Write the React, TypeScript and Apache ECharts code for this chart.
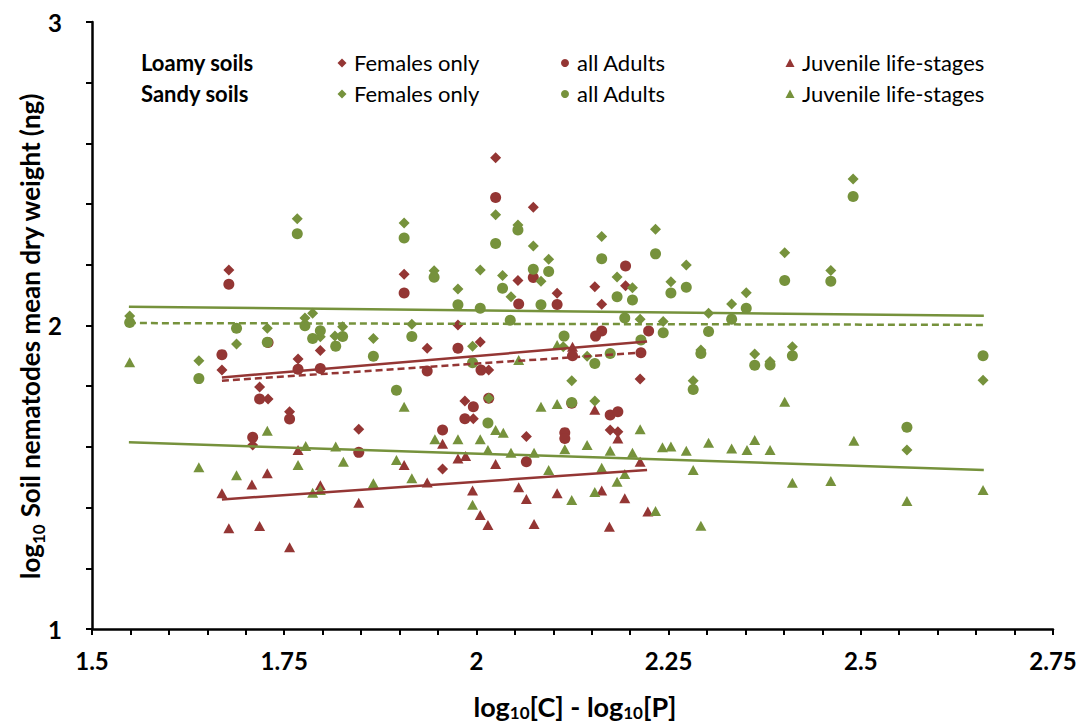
import React, { useEffect, useRef } from "react";
import * as echarts from "echarts";

const RED = "#943634";
const GREEN = "#76923C";

// Loamy soils
const loamyFemales: [number, number][] = [
  [1.678, 2.183], [1.669, 1.853], [1.768, 1.89], [1.797, 1.918], [1.718, 1.797],
  [1.729, 1.758], [1.757, 1.716], [1.709, 1.606], [1.906, 2.169], [2.025, 2.553],
  [2.074, 2.39], [2.054, 2.148], [1.976, 2.002], [1.936, 1.925], [2.005, 1.946],
  [2.016, 1.853], [1.985, 1.751], [1.996, 1.693], [1.847, 1.658], [2.065, 1.634],
  [1.956, 1.527], [2.105, 2.106], [2.154, 2.128], [2.163, 2.07], [2.194, 2.131],
  [2.213, 1.824], [2.174, 1.656], [2.184, 1.65],
];
const loamyAdults: [number, number][] = [
  [1.678, 2.136], [1.669, 1.904], [1.729, 1.944], [1.768, 1.856], [1.797, 1.858],
  [1.718, 1.758], [1.757, 1.692], [1.709, 1.632], [1.906, 2.107], [2.025, 2.422],
  [2.074, 2.158], [2.055, 2.071], [1.976, 1.925], [1.936, 1.85], [2.006, 1.853],
  [1.996, 1.732], [2.016, 1.76], [1.985, 1.693], [1.956, 1.656], [1.847, 1.582],
  [2.065, 1.551], [2.105, 2.069], [2.194, 2.196], [2.163, 1.982], [2.155, 1.965],
  [2.224, 1.982], [2.125, 1.9], [2.214, 1.91], [2.174, 1.705], [2.184, 1.716],
  [2.115, 1.647], [2.115, 1.628], [2.124, 1.744],
];
const loamyJuveniles: [number, number][] = [
  [1.768, 1.59], [1.728, 1.513], [1.708, 1.476], [1.669, 1.447], [1.797, 1.474],
  [1.678, 1.332], [1.718, 1.339], [1.757, 1.269], [1.956, 1.61], [1.906, 1.54],
  [1.976, 1.562], [1.986, 1.57], [2.025, 1.544], [1.936, 1.483], [1.995, 1.456],
  [2.055, 1.467], [2.065, 1.428], [1.847, 1.416], [2.005, 1.376], [2.015, 1.343],
  [2.075, 1.346], [2.125, 1.93], [2.154, 1.722], [2.184, 1.628], [2.213, 1.551],
  [2.105, 1.447], [2.163, 1.456], [2.193, 1.431], [2.223, 1.387], [2.173, 1.337],
];

// Sandy soils
const sandyFemales: [number, number][] = [
  [1.549, 2.031], [1.767, 2.352], [1.728, 1.991], [1.688, 1.939], [1.777, 2.025],
  [1.787, 2.04], [1.797, 1.963], [1.639, 1.884], [1.906, 2.338], [2.025, 2.365],
  [2.054, 2.331], [2.074, 2.262], [1.945, 2.18], [2.005, 2.183], [2.034, 2.165],
  [1.976, 2.12], [2.045, 2.095], [1.916, 2.004], [1.866, 1.957], [1.826, 1.996],
  [1.816, 1.965], [1.995, 1.932], [2.016, 1.76], [2.094, 2.218], [2.084, 2.146],
  [2.163, 2.293], [2.183, 2.16], [2.203, 2.124], [2.233, 2.317], [2.273, 2.199],
  [2.253, 2.144], [2.213, 2.021], [2.243, 2.013], [2.302, 2.04], [2.332, 2.071],
  [2.351, 2.108], [2.113, 1.93], [2.144, 1.899], [2.292, 1.919], [2.124, 1.818],
  [2.282, 1.818], [2.154, 1.751], [2.49, 2.483], [2.401, 2.24], [2.461, 2.181],
  [2.411, 1.93], [2.362, 1.906], [2.382, 1.881], [2.659, 1.82], [2.56, 1.59],
];
const sandyAdults: [number, number][] = [
  [1.549, 2.01], [1.767, 2.302], [1.688, 1.991], [1.728, 1.945], [1.777, 1.999],
  [1.797, 1.983], [1.787, 1.957], [1.639, 1.825], [2.025, 2.27], [1.906, 2.288],
  [2.054, 2.315], [2.074, 2.185], [1.945, 2.159], [2.034, 2.123], [1.976, 2.068],
  [2.005, 2.057], [2.084, 2.068], [2.044, 2.017], [1.916, 1.964], [1.826, 1.964],
  [1.817, 1.932], [1.866, 1.899], [1.995, 1.877], [1.896, 1.787], [2.015, 1.679],
  [2.094, 2.178], [2.163, 2.22], [2.183, 2.095], [2.203, 2.084], [2.233, 2.236],
  [2.273, 2.126], [2.253, 2.107], [2.193, 2.025], [2.243, 1.976], [2.302, 1.98],
  [2.332, 2.021], [2.351, 2.057], [2.114, 1.965], [2.214, 1.952], [2.154, 1.875],
  [2.174, 1.908], [2.292, 1.908], [2.282, 1.789], [2.124, 1.746], [2.49, 2.425],
  [2.401, 2.148], [2.461, 2.146], [2.411, 1.9], [2.362, 1.869], [2.382, 1.87],
  [2.659, 1.9], [2.56, 1.665],
];
const sandyJuveniles: [number, number][] = [
  [1.549, 1.879], [1.728, 1.653], [1.778, 1.603], [1.639, 1.533], [1.768, 1.54],
  [1.688, 1.507], [1.787, 1.449], [1.797, 1.458], [2.055, 1.886], [1.906, 1.732],
  [1.946, 1.625], [1.976, 1.625], [2.005, 1.625], [2.025, 1.656], [2.035, 1.647],
  [1.817, 1.601], [1.827, 1.551], [1.896, 1.557], [2.015, 1.59], [2.045, 1.581],
  [2.075, 1.581], [1.866, 1.48], [1.916, 1.497], [1.995, 1.409], [2.084, 1.732],
  [2.105, 1.936], [2.105, 1.741], [2.213, 1.658], [2.115, 1.592], [2.144, 1.606],
  [2.174, 1.587], [2.203, 1.581], [2.242, 1.599], [2.253, 1.601], [2.273, 1.587],
  [2.302, 1.614], [2.332, 1.595], [2.352, 1.59], [2.094, 1.524], [2.163, 1.531],
  [2.193, 1.511], [2.183, 1.485], [2.282, 1.524], [2.124, 1.425], [2.154, 1.451],
  [2.233, 1.389], [2.292, 1.34], [2.401, 1.749], [2.362, 1.623], [2.382, 1.59],
  [2.491, 1.62], [2.411, 1.482], [2.461, 1.488], [2.56, 1.422], [2.659, 1.458],
];

// Trend lines (end points)
const sandyFemalesTrend: [number, number][] = [[1.548, 2.062], [2.66, 2.032]];
const sandyAdultsTrend: [number, number][] = [[1.548, 2.008], [2.66, 2.002]];
const sandyJuvTrend: [number, number][] = [[1.548, 1.615], [2.66, 1.524]];
const loamyFemalesTrend: [number, number][] = [[1.669, 1.829], [2.222, 1.947]];
const loamyAdultsTrend: [number, number][] = [[1.669, 1.818], [2.222, 1.912]];
const loamyJuvTrend: [number, number][] = [[1.669, 1.427], [2.222, 1.524]];

const xTickLabels = ["1.5", "1.75", "2", "2.25", "2.5", "2.75"];
const yTickLabels = ["1", "2", "3"];

const legendRows = ["Loamy soils", "Sandy soils"];
const legendItems = ["Females only", "all Adults", "Juvenile life-stages"];

const FONT = "Lato, 'Open Sans', sans-serif";

export default function App() {
  const ref = useRef<HTMLDivElement>(null);
  useEffect(() => {
    const chart = echarts.init(ref.current!, null, { renderer: "svg" });

    const scatter = (name: string, data: [number, number][], symbol: string, color: string, size: any) => ({
      name,
      type: "scatter",
      data,
      symbol,
      symbolSize: size,
      itemStyle: { color, opacity: 1 },
      z: 3,
    });
    const trend = (name: string, data: [number, number][], color: string, dashed: boolean) => ({
      name,
      type: "line",
      data,
      symbol: "none",
      silent: true,
      lineStyle: { color, width: 2.5, type: dashed ? [7, 4] : "solid" },
      z: 5,
    });

    const rowY = [62, 93];
    const rowColors = [RED, GREEN];
    const symX = [342, 565, 790];
    const textX = [354, 577, 802];
    const graphics: any[] = [];
    legendRows.forEach((r, i) => {
      graphics.push({
        type: "text",
        x: 141,
        y: rowY[i],
        style: { text: r, font: `bold 22px ${FONT}`, fill: "#000", verticalAlign: "middle" },
      });
      legendItems.forEach((t, j) => {
        const c = rowColors[i];
        const cy = rowY[i] + 1;
        if (j === 0) {
          graphics.push({ type: "polygon", shape: { points: [[symX[j], cy - 4.5], [symX[j] + 4.5, cy], [symX[j], cy + 4.5], [symX[j] - 4.5, cy]] }, style: { fill: c } });
        } else if (j === 1) {
          graphics.push({ type: "circle", shape: { cx: symX[j], cy, r: 4 }, style: { fill: c } });
        } else {
          graphics.push({ type: "polygon", shape: { points: [[symX[j], cy - 4.5], [symX[j] + 4.5, cy + 4], [symX[j] - 4.5, cy + 4]] }, style: { fill: c } });
        }
        graphics.push({
          type: "text",
          x: textX[j],
          y: rowY[i],
          style: { text: t, font: `22px ${FONT}`, fill: "#000", verticalAlign: "middle" },
        });
      });
    });
    // axis titles
    graphics.push({
      type: "text",
      x: 30,
      y: 336,
      rotation: Math.PI / 2,
      style: {
        text: "{a|log}{s|10}{a| Soil nematodes mean dry weight (ng)}",
        align: "center",
        verticalAlign: "middle",
        rich: {
          a: { font: `bold 26px ${FONT}`, fill: "#000", lineHeight: 34, verticalAlign: "middle" },
          s: { font: `bold 17px ${FONT}`, fill: "#000", lineHeight: 34, verticalAlign: "bottom" },
        },
      },
    });
    graphics.push({
      type: "text",
      x: 575,
      y: 706,
      style: {
        text: "{a|log}{s|10}{a|[C] - log}{s|10}{a|[P]}",
        align: "center",
        verticalAlign: "middle",
        rich: {
          a: { font: `bold 27px ${FONT}`, fill: "#000", lineHeight: 30, verticalAlign: "middle" },
          s: { font: `bold 17px ${FONT}`, fill: "#000", lineHeight: 30, verticalAlign: "bottom" },
        },
      },
    });

    const round2 = (v: number) => parseFloat(v.toFixed(2));

    chart.setOption({
      animation: false,
      backgroundColor: "#fff",
      grid: { left: 92, right: 30, top: 22, bottom: 98, containLabel: false },
      xAxis: {
        type: "value",
        min: 1.5,
        max: 2.75,
        interval: 0.05,
        axisLine: { show: true, onZero: false, lineStyle: { color: "#000", width: 2.5 } },
        axisTick: { show: true, length: 6, lineStyle: { color: "#000", width: 2 } },
        splitLine: { show: false },
        axisLabel: {
          margin: 19,
          fontFamily: FONT,
          fontWeight: "bold",
          fontSize: 24,
          color: "#000",
          showMaxLabel: true,
          showMinLabel: true,
          formatter: (v: number) => {
            const s = String(round2(v));
            return xTickLabels.includes(s) ? s : "";
          },
        },
      },
      yAxis: {
        type: "value",
        min: 1,
        max: 3,
        interval: 0.2,
        axisLine: { show: true, onZero: false, lineStyle: { color: "#000", width: 2.5 } },
        axisTick: { show: true, length: 6, lineStyle: { color: "#000", width: 2 } },
        splitLine: { show: false },
        axisLabel: {
          margin: 30,
          fontFamily: FONT,
          fontWeight: "bold",
          fontSize: 24,
          color: "#000",
          formatter: (v: number) => {
            const s = String(round2(v));
            return yTickLabels.includes(s) ? s : "";
          },
        },
      },
      graphic: graphics,
      series: [
        scatter("Loamy Females only", loamyFemales, "diamond", RED, [11, 11]),
        scatter("Loamy all Adults", loamyAdults, "circle", RED, 11),
        scatter("Loamy Juvenile life-stages", loamyJuveniles, "triangle", RED, [11, 10]),
        scatter("Sandy Females only", sandyFemales, "diamond", GREEN, [11, 11]),
        scatter("Sandy all Adults", sandyAdults, "circle", GREEN, 11),
        scatter("Sandy Juvenile life-stages", sandyJuveniles, "triangle", GREEN, [11, 10]),
        trend("Sandy Females trend", sandyFemalesTrend, GREEN, false),
        trend("Sandy Adults trend", sandyAdultsTrend, GREEN, true),
        trend("Sandy Juveniles trend", sandyJuvTrend, GREEN, false),
        trend("Loamy Females trend", loamyFemalesTrend, RED, false),
        trend("Loamy Adults trend", loamyAdultsTrend, RED, true),
        trend("Loamy Juveniles trend", loamyJuvTrend, RED, false),
      ],
    });
    return () => chart.dispose();
  }, []);
  return (
    <div
      ref={ref}
      style={{ position: "fixed", left: 0, top: 0, width: 1083, height: 727, background: "#fff" }}
    />
  );
}
